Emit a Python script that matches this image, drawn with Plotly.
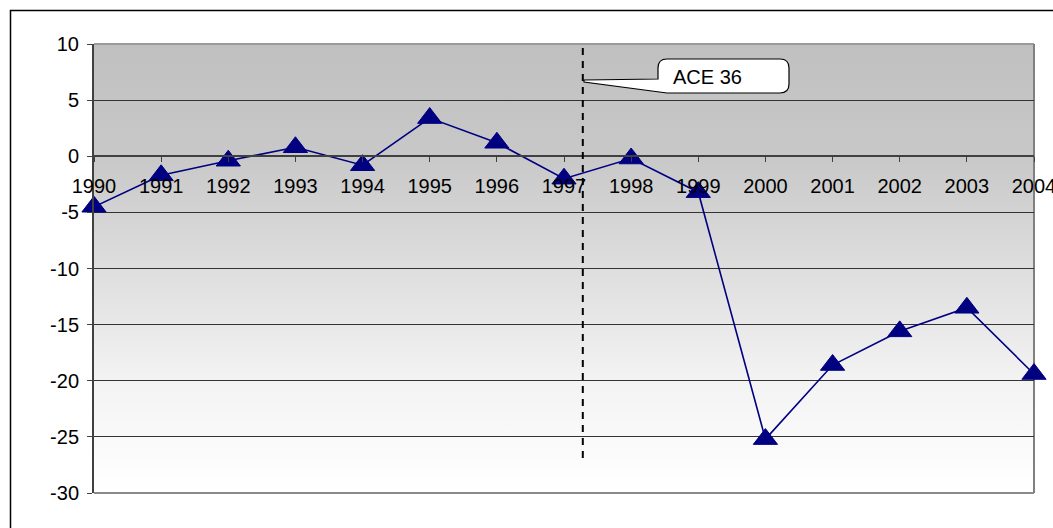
import base64
import plotly.graph_objects as go

# Yearly series
years = list(range(1990, 2005))
values = [-4.5, -1.7, -0.4, 0.8, -0.8, 3.4, 1.2, -2.0, -0.2, -3.2,
          -25.2, -18.6, -15.6, -13.5, -19.4]
year_labels = [str(y) for y in years]

y_min, y_max = -30, 10
y_ticks = list(range(-30, 11, 5))
y_labels = [str(v) for v in y_ticks]   # plain hyphen minus signs

marker_year = 1997.28   # dashed reference line position
callout_text = "ACE 36"

W, H = 1053, 528
L, R, T, B = 94, 19, 44, 35
PW, PH = W - L - R, H - T - B


def px_x(px):
    return years[0] + (px - L) / PW * (years[-1] - years[0])


def px_y(py):
    return y_max - (py - T) / PH * (y_max - y_min)


# grey-to-white vertical gradient for the plot background
grad_svg = (
    '<svg xmlns="http://www.w3.org/2000/svg" width="100" height="100" '
    'preserveAspectRatio="none" viewBox="0 0 100 100">'
    '<defs><linearGradient id="g" x1="0" y1="0" x2="0" y2="1">'
    '<stop offset="0" stop-color="rgb(192,192,192)"/>'
    '<stop offset="0.25" stop-color="rgb(200,200,200)"/>'
    '<stop offset="0.5" stop-color="rgb(222,222,222)"/>'
    '<stop offset="0.75" stop-color="rgb(243,243,243)"/>'
    '<stop offset="1" stop-color="rgb(255,255,255)"/>'
    '</linearGradient></defs>'
    '<rect x="0" y="0" width="100" height="100" fill="url(#g)"/></svg>'
)
grad_uri = "data:image/svg+xml;base64," + base64.b64encode(grad_svg.encode()).decode()

shapes = []
# plot-area frame
shapes.append(dict(type="line", xref="paper", yref="paper", layer="below",
                   x0=0, x1=1, y0=1, y1=1, line=dict(color="#9a9a9a", width=2)))
shapes.append(dict(type="line", xref="paper", yref="paper", layer="below",
                   x0=0, x1=1, y0=0, y1=0, line=dict(color="#8a8a8a", width=2)))
shapes.append(dict(type="line", xref="paper", yref="paper", layer="below",
                   x0=1, x1=1, y0=0, y1=1, line=dict(color="#808080", width=2)))

# outer chart frame
shapes.append(dict(type="rect", xref="paper", yref="paper",
                   x0=(10.5 - L) / PW, x1=1.2, y0=-0.2, y1=(H - B - 10.5) / PH,
                   line=dict(color="black", width=1.5)))

# dashed vertical line
shapes.append(dict(type="line", xref="x", yref="y",
                   x0=marker_year, x1=marker_year, y0=px_y(48), y1=px_y(463),
                   line=dict(color="black", width=2, dash="7px,6px")))

# callout box with pointer
bx0, bx1, by0, by1, r = 658, 789, 59, 93, 9
tipx, tipy = 584, 81
pts = [
    ("M", bx0 + r, by0),
    ("L", bx1 - r, by0),
    ("Q", bx1, by0, bx1, by0 + r),
    ("L", bx1, by1 - r),
    ("Q", bx1, by1, bx1 - r, by1),
    ("L", bx0 + r, by1),
    ("L", tipx, tipy + 1),
    ("L", tipx, tipy - 1),
    ("L", bx0, tipy - 2),
    ("L", bx0, by0 + r),
    ("Q", bx0, by0, bx0 + r, by0),
]
path = ""
for p in pts:
    cmd, coords = p[0], p[1:]
    xy = []
    for j in range(0, len(coords), 2):
        xy.append(f"{px_x(coords[j]):.5f},{px_y(coords[j + 1]):.5f}")
    path += cmd + " ".join(xy) + " "
path += "Z"
shapes.append(dict(type="path", xref="x", yref="y", path=path,
                   fillcolor="white", line=dict(color="black", width=1.2)))

fig = go.Figure()
fig.add_trace(go.Scatter(
    x=years, y=values, mode="lines+markers",
    line=dict(color="#000080", width=1.6),
    marker=dict(symbol="triangle-up", size=21, color="#000080",
                line=dict(color="#000080", width=1)),
    cliponaxis=False, hoverinfo="skip", showlegend=False,
))

fig.update_layout(
    width=W, height=H,
    margin=dict(l=L, r=R, t=T, b=B, autoexpand=False),
    paper_bgcolor="white", plot_bgcolor="rgba(0,0,0,0)",
    font=dict(family="Liberation Sans, Arial, sans-serif", size=20, color="black"),
    shapes=shapes,
    images=[dict(source=grad_uri, xref="paper", yref="paper", x=0, y=1,
                 sizex=1, sizey=1, xanchor="left", yanchor="top",
                 sizing="stretch", layer="below")],
    showlegend=False,
    xaxis=dict(
        range=[years[0], years[-1]], tickvals=years, ticktext=year_labels,
        showgrid=False, zeroline=False, automargin=False,
        showline=True, linecolor="#404040", linewidth=1.5,
        ticks="outside", ticklen=5, tickcolor="#404040", tickwidth=1,
        anchor="free", position=(0 - y_min) / (y_max - y_min),
        ticklabelstandoff=7, ticklabeloverflow="allow",
    ),
    yaxis=dict(
        range=[y_min, y_max], tickvals=y_ticks, ticktext=y_labels,
        showgrid=True, gridcolor="#333333", gridwidth=1, zeroline=False,
        automargin=False,
        showline=True, linecolor="#404040", linewidth=2,
        ticks="outside", ticklen=5, tickcolor="#404040", tickwidth=1,
        ticklabelstandoff=4,
    ),
    annotations=[dict(
        xref="x", yref="y", x=px_x(707), y=px_y(77), text=callout_text,
        showarrow=False, font=dict(size=20, color="black"),
        xanchor="center", yanchor="middle",
    )],
)

fig.write_html("out.html")
